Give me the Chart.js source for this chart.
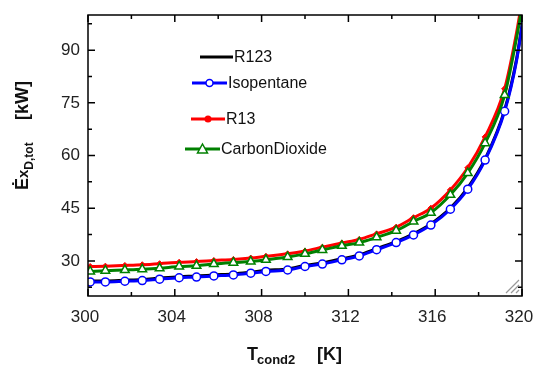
<!DOCTYPE html>
<html>
<head>
<meta charset="utf-8">
<script src="https://cdn.jsdelivr.net/npm/chart.js@4.4.1/dist/chart.umd.min.js"></script>
<style>
  html, body { margin: 0; padding: 0; background: #fff; }
  #wrap { width: 534px; height: 365px; }
</style>
</head>
<body>
<div id="wrap"><canvas id="bieuDo"></canvas></div>
<script>
// Du lieu doc tu hinh
const tCond = [300.1, 300.8, 301.7, 302.5, 303.3, 304.2, 305.0, 305.8, 306.7, 307.5, 308.2, 309.2, 310.0,
  310.8, 311.7, 312.5, 313.3, 314.2, 315.0, 315.8, 316.7, 317.5, 318.3, 319.2, 319.75, 320.1];
const r123 = [24.3, 24.3, 24.5, 24.7, 25.1, 25.5, 25.7, 26.0, 26.3, 26.8, 27.3, 27.7, 28.7,
  29.4, 30.6, 31.7, 33.5, 35.5, 37.7, 40.5, 45.0, 50.8, 59.0, 73.0, 87.5, 101];
const isopentane = [24.0, 24.0, 24.2, 24.4, 24.8, 25.2, 25.4, 25.7, 26.0, 26.5, 27.0, 27.4, 28.4,
  29.1, 30.3, 31.4, 33.2, 35.2, 37.4, 40.2, 44.7, 50.4, 58.7, 72.6, 87.0, 101];
const r13 = [28.4, 28.5, 28.7, 28.9, 29.2, 29.6, 29.8, 30.1, 30.4, 30.8, 31.3, 32.0, 32.8,
  33.9, 35.1, 36.1, 37.7, 39.6, 42.3, 45.0, 50.2, 56.5, 65.3, 79.0, 95.0, 108];
const carbonDioxide = [27.0, 27.2, 27.4, 27.6, 27.9, 28.4, 28.6, 29.1, 29.5, 29.8, 30.3, 31.1, 32.0,
  33.1, 34.3, 35.2, 36.7, 38.6, 41.2, 43.7, 48.8, 55.0, 63.5, 77.2, 93.5, 106];
const yTicks = [30, 45, 60, 75, 90];
const xTicks = [300, 304, 308, 312, 316, 320];

const FONT = "'Liberation Sans', Arial, sans-serif";

function pts(ys) {
  return tCond.map((t, i) => ({ x: t, y: ys[i] }));
}

// Khung, vach chia huong vao trong
const khungPlugin = {
  id: "khung",
  afterDatasetsDraw(chart) {
    const { ctx, chartArea: a, scales } = chart;
    const x = scales.x, y = scales.y;
    ctx.save();
    ctx.strokeStyle = "#000";
    ctx.lineWidth = 1.5;
    ctx.beginPath();
    for (let v = 300; v <= 320; v += 2) {
      const px = x.getPixelForValue(v);
      const len = v % 4 === 0 ? 7 : 4;
      ctx.moveTo(px, a.bottom); ctx.lineTo(px, a.bottom - len);
      ctx.moveTo(px, a.top); ctx.lineTo(px, a.top + len);
    }
    for (let v = 22.5; v <= 97.5; v += 7.5) {
      const py = y.getPixelForValue(v);
      const len = (v - 30) % 15 === 0 ? 7 : 4;
      ctx.moveTo(a.left, py); ctx.lineTo(a.left + len, py);
      ctx.moveTo(a.right, py); ctx.lineTo(a.right - len, py);
    }
    ctx.stroke();
    ctx.strokeRect(a.left, a.top, a.right - a.left, a.bottom - a.top);

    // vach xam o goc
    ctx.strokeStyle = "#999";
    ctx.lineWidth = 1.2;
    ctx.beginPath();
    for (let i = 0; i < 3; i++) {
      ctx.moveTo(a.right - 16 + i * 5, a.bottom - 3);
      ctx.lineTo(a.right - 3, a.bottom - 16 + i * 5);
    }
    ctx.stroke();
    ctx.restore();
  },
};

// Chu thich trong vung ve
const chuThichPlugin = {
  id: "chuThich",
  afterDraw(chart) {
    const ctx = chart.ctx;
    const items = [
      { label: "R123", color: "#000", x1: 200, x2: 233, y: 57, marker: null },
      { label: "Isopentane", color: "#0000ff", x1: 192, x2: 227, y: 83, marker: "circle" },
      { label: "R13", color: "#ff0000", x1: 191, x2: 225, y: 119, marker: "dot" },
      { label: "CarbonDioxide", color: "#008000", x1: 185, x2: 220, y: 149, marker: "tri" },
    ];
    ctx.save();
    items.forEach((it) => {
      ctx.strokeStyle = it.color;
      ctx.lineWidth = 3;
      ctx.beginPath();
      ctx.moveTo(it.x1, it.y); ctx.lineTo(it.x2, it.y);
      ctx.stroke();
      const cx = (it.x1 + it.x2) / 2;
      ctx.lineWidth = 1.5;
      if (it.marker === "circle") {
        ctx.fillStyle = "#fff";
        ctx.beginPath(); ctx.arc(cx, it.y, 3.5, 0, Math.PI * 2); ctx.fill(); ctx.stroke();
      } else if (it.marker === "dot") {
        ctx.fillStyle = it.color;
        ctx.beginPath(); ctx.arc(cx, it.y, 3.5, 0, Math.PI * 2); ctx.fill();
      } else if (it.marker === "tri") {
        ctx.fillStyle = "#fff";
        ctx.beginPath();
        ctx.moveTo(cx, it.y - 5); ctx.lineTo(cx + 5, it.y + 4); ctx.lineTo(cx - 5, it.y + 4);
        ctx.closePath(); ctx.fill(); ctx.stroke();
      }
      ctx.fillStyle = "#111";
      ctx.font = "16px " + FONT;
      ctx.textBaseline = "middle";
      ctx.fillText(it.label, it.x2 + 1, it.y + 1);
    });
    ctx.restore();
  },
};

// Ten truc co chi so duoi
const tenTrucPlugin = {
  id: "tenTruc",
  afterDraw(chart) {
    const ctx = chart.ctx;
    ctx.save();
    ctx.fillStyle = "#111";
    ctx.textBaseline = "alphabetic";
    // truc x
    ctx.font = "bold 18px " + FONT;
    ctx.fillText("T", 247, 360);
    ctx.font = "bold 13px " + FONT;
    ctx.fillText("cond2", 257, 364);
    ctx.font = "bold 18px " + FONT;
    ctx.fillText("[K]", 317, 360);
    // truc y
    ctx.translate(28, 190);
    ctx.rotate(-Math.PI / 2);
    ctx.font = "bold 18px " + FONT;
    ctx.fillText("Ė", 0, 0);
    let w = ctx.measureText("Ė").width;
    ctx.font = "bold 15px " + FONT;
    ctx.fillText("x", w, 0);
    w += ctx.measureText("x").width;
    ctx.font = "bold 12px " + FONT;
    ctx.fillText("D,tot", w, 5);
    ctx.font = "bold 18px " + FONT;
    ctx.fillText("[kW]", 70, 0);
    ctx.restore();
  },
};

const lastIdx = tCond.length - 1;
const radius = (r) => (c) => (c.dataIndex >= lastIdx - 1 ? 0 : r);

new Chart(document.getElementById("bieuDo"), {
  type: "line",
  data: {
    datasets: [
      {
        label: "CarbonDioxide",
        data: pts(carbonDioxide),
        order: 0,
        borderColor: "#008000",
        borderWidth: 3,
        backgroundColor: "#fff",
        pointStyle: "triangle",
        pointRadius: radius(5),
        pointBorderWidth: 1.5,
        cubicInterpolationMode: "monotone",
      },
      {
        label: "R13",
        data: pts(r13),
        order: 1,
        borderColor: "#ff0000",
        borderWidth: 3,
        backgroundColor: "#ff0000",
        pointStyle: "rectRot",
        pointRadius: radius(3),
        pointBorderWidth: 1,
        cubicInterpolationMode: "monotone",
      },
      {
        label: "Isopentane",
        data: pts(isopentane),
        order: 2,
        borderColor: "#0000ff",
        borderWidth: 3,
        backgroundColor: "#fff",
        pointStyle: "circle",
        pointRadius: radius(4),
        pointBorderWidth: 1.5,
        cubicInterpolationMode: "monotone",
      },
      {
        label: "R123",
        data: pts(r123),
        order: 3,
        borderColor: "#000",
        borderWidth: 3,
        pointRadius: 0,
        cubicInterpolationMode: "monotone",
      },
    ],
  },
  options: {
    responsive: true,
    maintainAspectRatio: false,
    animation: false,
    layout: { padding: { left: 0, top: 15, right: 12, bottom: 0 } },
    plugins: { legend: { display: false }, tooltip: { enabled: false } },
    scales: {
      x: {
        type: "linear",
        min: 300,
        max: 320,
        afterBuildTicks: (s) => { s.ticks = xTicks.map((v) => ({ value: v })); },
        afterFit: (s) => { s.height = 69; s.paddingLeft = 0; s.paddingRight = 0; },
        grid: { display: false, drawTicks: false },
        border: { display: false },
        ticks: { padding: 11, labelOffset: -3, color: "#222", font: { size: 17, family: FONT } },
      },
      y: {
        min: 20,
        max: 100,
        afterBuildTicks: (s) => { s.ticks = yTicks.map((v) => ({ value: v })); },
        afterFit: (s) => { s.width = 88; s.paddingTop = 0; s.paddingBottom = 0; },
        grid: { display: false, drawTicks: false },
        border: { display: false },
        ticks: { padding: 8, color: "#222", font: { size: 17, family: FONT } },
      },
    },
  },
  plugins: [khungPlugin, chuThichPlugin, tenTrucPlugin],
});
</script>
</body>
</html>
